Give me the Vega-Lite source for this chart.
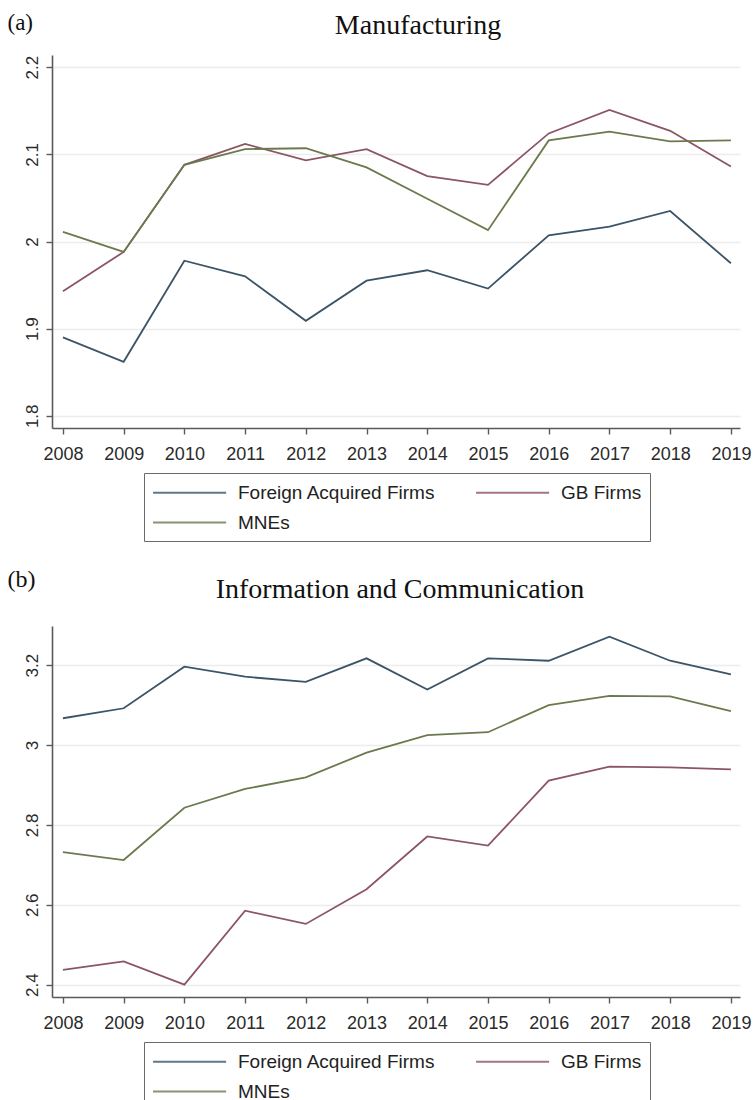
{
  "$schema": "https://vega.github.io/schema/vega-lite/v6.json",
  "description": "Average scores 2008-2019 for foreign acquired firms, GB firms and MNEs, by sector.",
  "background": "white",
  "autosize": {"type": "pad"},
  "padding": {"left": 7, "top": 11, "right": 2, "bottom": 2},
  "bounds": "flush",
  "spacing": 198,
  "resolve": {"legend": {"color": "independent"}},
  "datasets": {
    "manufacturing": [
      {"year": 2008, "series": "Foreign Acquired Firms", "value": 1.890},
      {"year": 2009, "series": "Foreign Acquired Firms", "value": 1.862},
      {"year": 2010, "series": "Foreign Acquired Firms", "value": 1.978},
      {"year": 2011, "series": "Foreign Acquired Firms", "value": 1.960},
      {"year": 2012, "series": "Foreign Acquired Firms", "value": 1.909},
      {"year": 2013, "series": "Foreign Acquired Firms", "value": 1.955},
      {"year": 2014, "series": "Foreign Acquired Firms", "value": 1.967},
      {"year": 2015, "series": "Foreign Acquired Firms", "value": 1.946},
      {"year": 2016, "series": "Foreign Acquired Firms", "value": 2.007},
      {"year": 2017, "series": "Foreign Acquired Firms", "value": 2.017},
      {"year": 2018, "series": "Foreign Acquired Firms", "value": 2.035},
      {"year": 2019, "series": "Foreign Acquired Firms", "value": 1.975},
      {"year": 2008, "series": "GB Firms", "value": 1.943},
      {"year": 2009, "series": "GB Firms", "value": 1.988},
      {"year": 2010, "series": "GB Firms", "value": 2.088},
      {"year": 2011, "series": "GB Firms", "value": 2.112},
      {"year": 2012, "series": "GB Firms", "value": 2.093},
      {"year": 2013, "series": "GB Firms", "value": 2.106},
      {"year": 2014, "series": "GB Firms", "value": 2.075},
      {"year": 2015, "series": "GB Firms", "value": 2.065},
      {"year": 2016, "series": "GB Firms", "value": 2.124},
      {"year": 2017, "series": "GB Firms", "value": 2.151},
      {"year": 2018, "series": "GB Firms", "value": 2.127},
      {"year": 2019, "series": "GB Firms", "value": 2.086},
      {"year": 2008, "series": "MNEs", "value": 2.011},
      {"year": 2009, "series": "MNEs", "value": 1.988},
      {"year": 2010, "series": "MNEs", "value": 2.088},
      {"year": 2011, "series": "MNEs", "value": 2.106},
      {"year": 2012, "series": "MNEs", "value": 2.107},
      {"year": 2013, "series": "MNEs", "value": 2.085},
      {"year": 2014, "series": "MNEs", "value": 2.049},
      {"year": 2015, "series": "MNEs", "value": 2.013},
      {"year": 2016, "series": "MNEs", "value": 2.116},
      {"year": 2017, "series": "MNEs", "value": 2.126},
      {"year": 2018, "series": "MNEs", "value": 2.115},
      {"year": 2019, "series": "MNEs", "value": 2.116}
    ],
    "infocomm": [
      {"year": 2008, "series": "Foreign Acquired Firms", "value": 3.067},
      {"year": 2009, "series": "Foreign Acquired Firms", "value": 3.092},
      {"year": 2010, "series": "Foreign Acquired Firms", "value": 3.196},
      {"year": 2011, "series": "Foreign Acquired Firms", "value": 3.171},
      {"year": 2012, "series": "Foreign Acquired Firms", "value": 3.158},
      {"year": 2013, "series": "Foreign Acquired Firms", "value": 3.217},
      {"year": 2014, "series": "Foreign Acquired Firms", "value": 3.139},
      {"year": 2015, "series": "Foreign Acquired Firms", "value": 3.217},
      {"year": 2016, "series": "Foreign Acquired Firms", "value": 3.211},
      {"year": 2017, "series": "Foreign Acquired Firms", "value": 3.271},
      {"year": 2018, "series": "Foreign Acquired Firms", "value": 3.211},
      {"year": 2019, "series": "Foreign Acquired Firms", "value": 3.177},
      {"year": 2008, "series": "GB Firms", "value": 2.437},
      {"year": 2009, "series": "GB Firms", "value": 2.458},
      {"year": 2010, "series": "GB Firms", "value": 2.400},
      {"year": 2011, "series": "GB Firms", "value": 2.585},
      {"year": 2012, "series": "GB Firms", "value": 2.552},
      {"year": 2013, "series": "GB Firms", "value": 2.639},
      {"year": 2014, "series": "GB Firms", "value": 2.771},
      {"year": 2015, "series": "GB Firms", "value": 2.748},
      {"year": 2016, "series": "GB Firms", "value": 2.911},
      {"year": 2017, "series": "GB Firms", "value": 2.946},
      {"year": 2018, "series": "GB Firms", "value": 2.944},
      {"year": 2019, "series": "GB Firms", "value": 2.939},
      {"year": 2008, "series": "MNEs", "value": 2.732},
      {"year": 2009, "series": "MNEs", "value": 2.712},
      {"year": 2010, "series": "MNEs", "value": 2.843},
      {"year": 2011, "series": "MNEs", "value": 2.890},
      {"year": 2012, "series": "MNEs", "value": 2.919},
      {"year": 2013, "series": "MNEs", "value": 2.981},
      {"year": 2014, "series": "MNEs", "value": 3.025},
      {"year": 2015, "series": "MNEs", "value": 3.032},
      {"year": 2016, "series": "MNEs", "value": 3.100},
      {"year": 2017, "series": "MNEs", "value": 3.123},
      {"year": 2018, "series": "MNEs", "value": 3.122},
      {"year": 2019, "series": "MNEs", "value": 3.085}
    ]
  },
  "config": {
    "view": {"stroke": null},
    "axis": {
      "labelFont": "Liberation Sans",
      "labelColor": "#2a2a2a",
      "domainColor": "#5a5a5a",
      "domainWidth": 1.6,
      "tickColor": "#5a5a5a",
      "tickWidth": 1.4,
      "tickSize": 6,
      "gridColor": "#ececec",
      "gridWidth": 1.5,
      "labelOverlap": false,
      "labelFlush": false
    },
    "title": {"font": "Liberation Serif", "fontWeight": "normal", "color": "#111111", "anchor": "middle", "baseline": "alphabetic"},
    "legend": {
      "orient": "none",
      "direction": "horizontal",
      "columns": 2,
      "title": null,
      "symbolType": "M-1,0H6",
      "symbolSize": 436,
      "symbolStrokeWidth": 2,
      "symbolOpacity": 0.8,
      "labelFont": "Liberation Sans",
      "labelFontSize": 19,
      "labelColor": "#222222",
      "labelOffset": 63,
      "labelLimit": 400,
      "columnPadding": 36,
      "rowPadding": 8,
      "padding": 8,
      "strokeColor": "#6a6a6a",
      "fillColor": "white"
    }
  },
  "vconcat": [
    {
      "data": {"name": "manufacturing"},
      "width": 688,
      "height": 373,
      "title": {"text": "Manufacturing", "fontSize": 28, "offset": -29, "dx": 22},
      "mark": {"type": "line", "strokeWidth": 1.8},
      "encoding": {
        "x": {
          "field": "year",
          "type": "quantitative",
          "scale": {"domain": [2007.82, 2019.15], "nice": false, "zero": false},
          "axis": {"values": [2008, 2009, 2010, 2011, 2012, 2013, 2014, 2015, 2016, 2017, 2018, 2019], "format": "d", "title": null, "grid": false, "labelFontSize": 18, "labelBaseline": "alphabetic", "labelPadding": 25}
        },
        "y": {
          "field": "value",
          "type": "quantitative",
          "scale": {"domain": [1.786, 2.214], "nice": false, "zero": false},
          "axis": {"values": [1.8, 1.9, 2, 2.1, 2.2], "format": "~g", "grid": true, "labelAngle": -90, "labelAlign": "center", "labelBaseline": "alphabetic", "labelPadding": 9, "labelFontSize": 17,
            "title": "(a)", "titleFont": "Liberation Serif", "titleFontSize": 23, "titleFontWeight": "normal", "titleColor": "#111111", "titleAngle": 0, "titleAlign": "left", "titleBaseline": "alphabetic", "titleX": -45, "titleY": -26}
        },
        "color": {
          "field": "series",
          "type": "nominal",
          "scale": {"domain": ["Foreign Acquired Firms", "GB Firms", "MNEs"], "range": ["#3c5467", "#8c5564", "#6b7a4e"]},
          "legend": {"legendX": 92, "legendY": 418}
        }
      }
    },
    {
      "data": {"name": "infocomm"},
      "width": 688,
      "height": 371,
      "title": {"text": "Information and Communication", "fontSize": 28, "offset": -37, "dx": 4},
      "mark": {"type": "line", "strokeWidth": 1.8},
      "encoding": {
        "x": {
          "field": "year",
          "type": "quantitative",
          "scale": {"domain": [2007.82, 2019.15], "nice": false, "zero": false},
          "axis": {"values": [2008, 2009, 2010, 2011, 2012, 2013, 2014, 2015, 2016, 2017, 2018, 2019], "format": "d", "title": null, "grid": false, "labelFontSize": 18, "labelBaseline": "alphabetic", "labelPadding": 25}
        },
        "y": {
          "field": "value",
          "type": "quantitative",
          "scale": {"domain": [2.369, 3.298], "nice": false, "zero": false},
          "axis": {"values": [2.4, 2.6, 2.8, 3, 3.2], "format": "~g", "grid": true, "labelAngle": -90, "labelAlign": "center", "labelBaseline": "alphabetic", "labelPadding": 9, "labelFontSize": 17,
            "title": "(b)", "titleFont": "Liberation Serif", "titleFontSize": 24, "titleFontWeight": "normal", "titleColor": "#111111", "titleAngle": 0, "titleAlign": "left", "titleBaseline": "alphabetic", "titleX": -45, "titleY": -40}
        },
        "color": {
          "field": "series",
          "type": "nominal",
          "scale": {"domain": ["Foreign Acquired Firms", "GB Firms", "MNEs"], "range": ["#3c5467", "#8c5564", "#6b7a4e"]},
          "legend": {"legendX": 92, "legendY": 416}
        }
      }
    }
  ]
}
